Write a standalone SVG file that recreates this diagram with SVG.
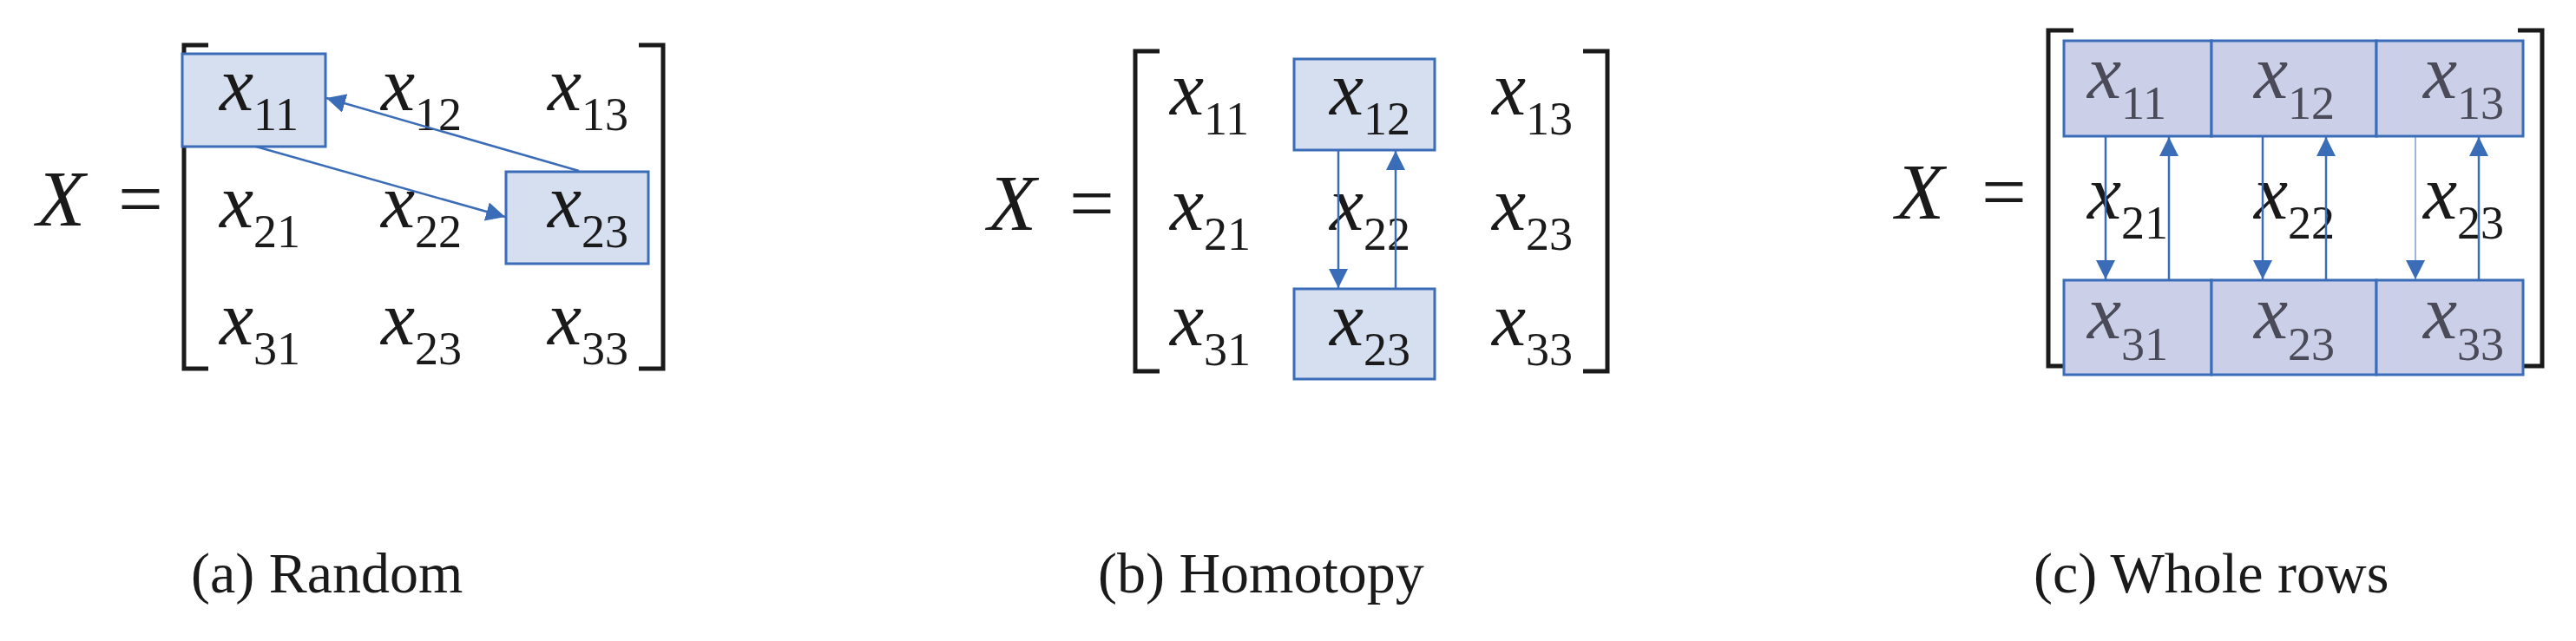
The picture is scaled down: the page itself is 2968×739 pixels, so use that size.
<svg xmlns="http://www.w3.org/2000/svg" width="2968" height="739" viewBox="0 0 2968 739">
<style>
.v{font-family:"Liberation Serif","DejaVu Serif",serif;font-style:italic;font-size:88px;fill:#1a1a1a}
.v tspan{font-style:normal;font-size:54px}
.g{fill:#4a4a58}
.X{font-family:"Liberation Serif","DejaVu Serif",serif;font-style:italic;font-size:92px;fill:#1a1a1a}
.eq{font-family:"Liberation Serif","DejaVu Serif",serif;font-size:92px;fill:#1a1a1a}
.br{fill:none;stroke:#1a1a1a;stroke-width:5}
.bx{fill:#d5dff0;stroke:#3a6cb8;stroke-width:3}
.bc{fill:#cbd0e8;stroke:#3a6cb8;stroke-width:3}
.c{stroke:#3a6cb8;stroke-width:2.5;fill:none;marker-end:url(#ah)}
.cap{font-family:"Liberation Serif","DejaVu Serif",serif;font-size:66px;fill:#1a1a1a}
</style>
<defs><marker id="ah" viewBox="0 0 10 10" refX="10" refY="5" markerWidth="22" markerHeight="22" markerUnits="userSpaceOnUse" orient="auto"><path d="M0,0L10,5L0,10Z" fill="#3a6cb8"/></marker></defs>

<g id="panel-a">
<text class="X" x="42" y="260">X</text><text class="eq" x="136" y="260">=</text>
<path class="br" d="M240,52H212V425H240M736,52H764V425H736"/>
<g id="a-x11"><rect class="bx" x="210" y="62" width="165" height="107"/><text class="v" x="253" y="127">x<tspan dy="23">11</tspan></text></g>
<g id="a-x12"><text class="v" x="439" y="127">x<tspan dy="23">12</tspan></text></g>
<g id="a-x13"><text class="v" x="631" y="127">x<tspan dy="23">13</tspan></text></g>
<g id="a-x21"><text class="v" x="253" y="262">x<tspan dy="23">21</tspan></text></g>
<g id="a-x22"><text class="v" x="439" y="262">x<tspan dy="23">22</tspan></text></g>
<g id="a-x23"><rect class="bx" x="583" y="198" width="164" height="106"/><text class="v" x="631" y="262">x<tspan dy="23">23</tspan></text></g>
<g id="a-x31"><text class="v" x="253" y="397">x<tspan dy="23">31</tspan></text></g>
<g id="a-x32"><text class="v" x="439" y="397">x<tspan dy="23">23</tspan></text></g>
<g id="a-x33"><text class="v" x="631" y="397">x<tspan dy="23">33</tspan></text></g>
<g id="a-conn"><path class="c" d="M667,197L376,113"/><path class="c" d="M295,169L582,250"/></g>
<text class="cap" x="220" y="683">(a)  Random</text>
</g>

<g id="panel-b">
<text class="X" x="1138" y="265">X</text><text class="eq" x="1232" y="265">=</text>
<path class="br" d="M1336,59H1308V428H1336M1824,59H1852V428H1824"/>
<g id="b-x11"><text class="v" x="1348" y="132">x<tspan dy="23">11</tspan></text></g>
<g id="b-x12"><rect class="bx" x="1491" y="68" width="162" height="105"/><text class="v" x="1532" y="132">x<tspan dy="23">12</tspan></text></g>
<g id="b-x13"><text class="v" x="1719" y="132">x<tspan dy="23">13</tspan></text></g>
<g id="b-x21"><text class="v" x="1348" y="265">x<tspan dy="23">21</tspan></text></g>
<g id="b-x22"><text class="v" x="1532" y="265">x<tspan dy="23">22</tspan></text></g>
<g id="b-x23"><text class="v" x="1719" y="265">x<tspan dy="23">23</tspan></text></g>
<g id="b-x31"><text class="v" x="1348" y="398">x<tspan dy="23">31</tspan></text></g>
<g id="b-x32"><rect class="bx" x="1491" y="333" width="162" height="104"/><text class="v" x="1532" y="398">x<tspan dy="23">23</tspan></text></g>
<g id="b-x33"><text class="v" x="1719" y="398">x<tspan dy="23">33</tspan></text></g>
<g id="b-conn"><path class="c" d="M1542,173V332"/><path class="c" d="M1608,333V174"/></g>
<text class="cap" x="1265" y="683">(b)  Homotopy</text>
</g>

<g id="panel-c">
<text class="X" x="2184" y="252">X</text><text class="eq" x="2283" y="252">=</text>
<path class="br" d="M2389,35H2360V422H2389M2901,35H2929V422H2901"/>
<g id="c-x11"><rect class="bc" x="2378" y="47" width="170" height="110"/><text class="v g" x="2405" y="113">x<tspan dy="24">11</tspan></text></g>
<g id="c-x12"><rect class="bc" x="2548" y="47" width="190" height="110"/><text class="v g" x="2597" y="113">x<tspan dy="24">12</tspan></text></g>
<g id="c-x13"><rect class="bc" x="2738" y="47" width="169" height="110"/><text class="v g" x="2792" y="113">x<tspan dy="24">13</tspan></text></g>
<g id="c-x21"><text class="v" x="2405" y="252">x<tspan dy="23">21</tspan></text></g>
<g id="c-x22"><text class="v" x="2597" y="252">x<tspan dy="23">22</tspan></text></g>
<g id="c-x23"><text class="v" x="2792" y="252">x<tspan dy="23">23</tspan></text></g>
<g id="c-x31"><rect class="bc" x="2378" y="323" width="170" height="109"/><text class="v g" x="2405" y="390">x<tspan dy="25">31</tspan></text></g>
<g id="c-x32"><rect class="bc" x="2548" y="323" width="190" height="109"/><text class="v g" x="2597" y="390">x<tspan dy="25">23</tspan></text></g>
<g id="c-x33"><rect class="bc" x="2738" y="323" width="169" height="109"/><text class="v g" x="2792" y="390">x<tspan dy="25">33</tspan></text></g>
<g id="c-conn">
<path class="c" d="M2426,157V322"/><path class="c" d="M2499,323V158"/>
<path class="c" d="M2607,157V322"/><path class="c" d="M2680,323V158"/>
<path class="c" d="M2783,157V322" style="stroke-width:1"/><path class="c" d="M2856,323V158"/>
</g>
<text class="cap" x="2343" y="683">(c)  Whole rows</text>
</g>
</svg>
